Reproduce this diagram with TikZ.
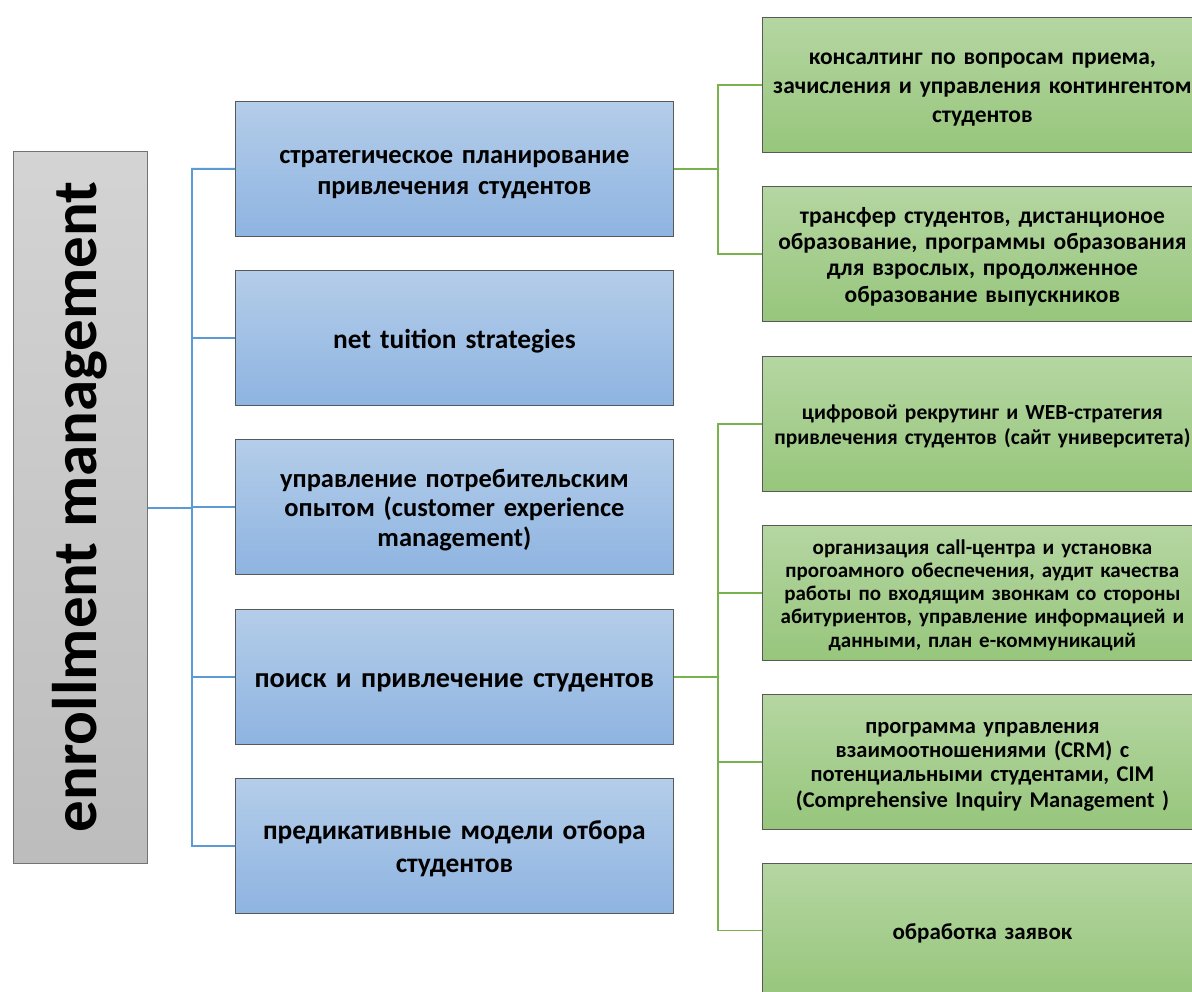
\documentclass[tikz,border=0pt]{standalone}
\usepackage{fontspec}
\setmainfont{Carlito}
\newcommand\xs{\rule[-0.2em]{0pt}{1.15em}}
\begin{document}
\begin{tikzpicture}[x=1pt,y=-1pt,
  greybox/.style={draw=black!55, line width=0.8pt, top color=black!17, bottom color=black!26, anchor=north west, minimum width=134pt, minimum height=712pt, inner sep=0pt},
  bluebox/.style={draw=black!65, line width=0.8pt, top color=blue1, bottom color=blue2, anchor=north west, minimum width=438pt, minimum height=135pt, inner sep=0pt, text width=436pt, align=center, font=\bfseries\fontsize{26.5}{29}\selectfont},
  greenbox/.style={draw=black!65, line width=0.8pt, top color=green1, bottom color=green2, anchor=north west, minimum width=428pt, minimum height=135pt, inner sep=0pt, text width=440pt, align=center},
  bline/.style={draw=bcon, line width=1.8pt},
  gline/.style={draw=gcon, line width=1.8pt}
]
\definecolor{blue1}{HTML}{B4CDE9}
\definecolor{blue2}{HTML}{8EB4E1}
\definecolor{green1}{HTML}{B5D6A2}
\definecolor{green2}{HTML}{97C67C}
\definecolor{bcon}{HTML}{5B9BD5}
\definecolor{gcon}{HTML}{77B24C}
\useasboundingbox (0,0) rectangle (1192,992);
\fill[white] (0,0) rectangle (1192,992);

\node[greybox] (em) at (13,151) {};
\node[rotate=90, font=\bfseries\fontsize{63}{65}\selectfont] (emt) at (80,507) {enrollment management};

\node[bluebox] (b1) at (235,101) {\xs стратегическое планирование\\\xs привлечения студентов};
\node[bluebox, font=\bfseries\fontsize{27.4}{29}\selectfont] (b2) at (235,270) {\xs net tuition strategies};
\node[bluebox] (b3) at (235,439) {\xs управление потребительским\\опытом (customer experience\\\xs management)};
\node[bluebox, font=\bfseries\fontsize{28.3}{29}\selectfont] (b4) at (235,609) {\xs поиск и привлечение студентов};
\node[bluebox, font=\bfseries\fontsize{27.4}{29}\selectfont] (b5) at (235,778) {\xs предикативные модели отбора\\\xs студентов};

\node[greenbox, font=\bfseries\fontsize{23.5}{29}\selectfont] (g1) at (762,17) {\xs консалтинг по вопросам приема,\\зачисления и управления контингентом\\\xs студентов};
\node[greenbox, font=\bfseries\fontsize{23.5}{26}\selectfont] (g2) at (762,186) {\xs трансфер студентов, дистанционое\\образование, программы образования\\для взрослых, продолженное\\\xs образование выпускников};
\node[greenbox, font=\bfseries\fontsize{21.5}{24}\selectfont] (g3) at (762,356) {\xs цифровой рекрутинг и WEB-стратегия\\\xs привлечения студентов (сайт университета)};
\node[greenbox, font=\bfseries\fontsize{21}{23}\selectfont] (g4) at (762,525) {\xs организация call-центра и установка\\прогоамного обеспечения, аудит качества\\работы по входящим звонкам со стороны\\абитуриентов, управление информацией и\\\xs данными, план е-коммуникаций};
\node[greenbox, font=\bfseries\fontsize{22.5}{24}\selectfont] (g5) at (762,694) {\xs программа управления\\взаимоотношениями (CRM) с\\потенциальными студентами, CIM\\\xs (Comprehensive Inquiry Management )};
\node[greenbox, font=\bfseries\fontsize{23}{24}\selectfont, minimum height=134pt] (g6) at (762,863) {\xs обработка заявок};

% blue bracket
\coordinate (bj) at (192,508);
\draw[bline] (em.east |- bj) -- (bj);
\draw[bline] (b1.west) -| (192,846) -- (b5.west);
\foreach \b in {b2,b3,b4} \draw[bline] (192,0 |- \b.west) -- (\b.west);

% green bracket 1
\draw[gline] (b1.east) -- (718,0 |- b1.east);
\draw[gline] (g1.west) -| (718,0 |- g2.west) -- (g2.west);
% green bracket 2
\draw[gline] (b4.east) -- (718,0 |- b4.east);
\draw[gline] (g3.west) -| (718,0 |- g6.west) -- (g6.west);
\foreach \g in {g4,g5} \draw[gline] (718,0 |- \g.west) -- (\g.west);
\end{tikzpicture}
\end{document}
